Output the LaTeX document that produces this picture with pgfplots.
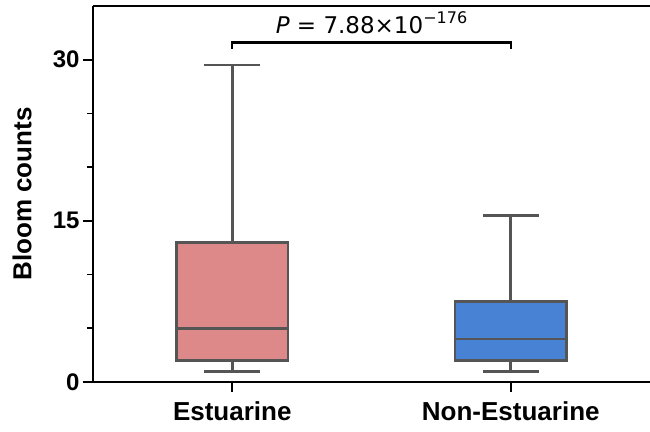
\documentclass[border=0pt]{standalone}
\usepackage{fontspec}
\setmainfont{Liberation Sans}
\newfontfamily\dejavu{DejaVu Sans}
\usepackage{pgfplots}
\pgfplotsset{compat=1.18}
\usepgfplotslibrary{statistics}
\definecolor{estu}{RGB}{221,136,137}
\definecolor{nonestu}{RGB}{72,130,212}
\definecolor{boxline}{RGB}{85,85,85}
\begin{document}
\begin{tikzpicture}
\begin{axis}[scale only axis, width=557pt, height=376pt,
 xmin=-0.5, xmax=1.5, ymin=0, ymax=35,
 axis lines*=left, axis line style={line width=1.8pt},
 xtick={0,1}, xticklabels={Estuarine,Non-Estuarine},
 ytick={0,15,30}, minor ytick={5,10,20,25},
 tick align=outside, major tick length=10pt, minor tick length=6pt,
 every tick/.style={black, line width=1.6pt},
 yticklabel style={font=\fontsize{24}{28}\selectfont\bfseries},
 xticklabel style={font=\fontsize{26}{30}\selectfont\bfseries, yshift=-6pt},
 /pgf/number format/assume math mode=true,
 ylabel={Bloom counts}, ylabel style={font=\fontsize{26}{30}\selectfont\bfseries, at={(axis description cs:-0.1275,0.5)}, anchor=center},
 clip=false,
 boxplot/draw direction=y,
]
\addplot+[boxplot prepared={draw position=0, lower whisker=1, lower quartile=2, median=5, upper quartile=13, upper whisker=29.5},
  boxplot/box extend=0.4, boxplot/whisker extend=0.2,
  draw=boxline, fill=estu, line width=2.8pt, mark=none, solid] coordinates {};
\addplot+[boxplot prepared={draw position=1, lower whisker=1, lower quartile=2, median=4, upper quartile=7.5, upper whisker=15.5},
  boxplot/box extend=0.4, boxplot/whisker extend=0.2,
  draw=boxline, fill=nonestu, line width=2.8pt, mark=none, solid] coordinates {};
\draw[line width=1.8pt] (rel axis cs:0,1) -- (rel axis cs:1,1);
\draw[line width=2.2pt] (axis cs:0,31) -- (axis cs:0,31.6) -- (axis cs:1,31.6) -- (axis cs:1,31);
\node[anchor=base, inner sep=0] at (axis cs:0.5,32.4) {\dejavu\fontsize{23}{27}\selectfont \textit{P} = 7.88×10\raisebox{0.45em}{\fontsize{16}{18}\selectfont −176}};
\coordinate (bl) at (rel axis cs:0,0);
\coordinate (tr) at (rel axis cs:1,1);
\end{axis}
\pgfresetboundingbox
\path[use as bounding box] ([shift={(-93pt,-49pt)}]bl) rectangle ([shift={(0pt,6pt)}]tr);
\end{tikzpicture}
\end{document}
